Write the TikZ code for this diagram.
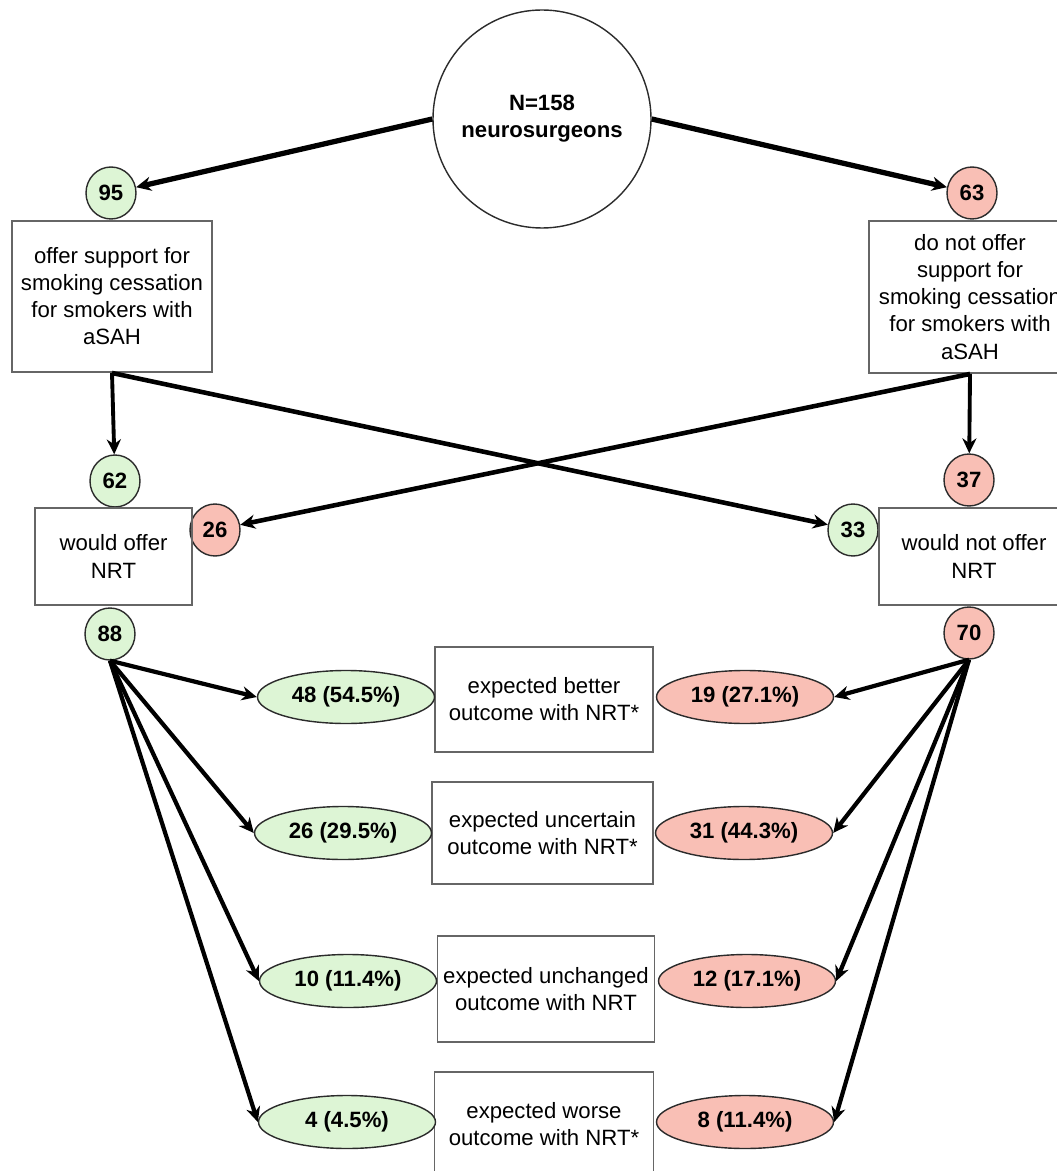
\documentclass[tikz,border=0pt]{standalone}
\usepackage{fontspec}
\setmainfont{Liberation Sans}
\usepackage{tikz}
\usetikzlibrary{arrows.meta,shapes.geometric}
\definecolor{yesgreen}{HTML}{DDF5D5}
\definecolor{nopink}{HTML}{F9BFB5}
\definecolor{boxgray}{HTML}{666666}
\definecolor{rimgray}{HTML}{2B2B2B}

\begin{document}
\begin{tikzpicture}[
  every node/.style={font=\fontsize{12.6}{15.4}\selectfont},
  count/.style={ellipse,draw=rimgray,line width=0.8pt,inner sep=0pt,minimum width=1cm,minimum height=1.04cm,font=\fontsize{12.6}{15.4}\selectfont\bfseries},
  yes/.style={count,fill=yesgreen},
  no/.style={count,fill=nopink},
  shareyes/.style={yes,minimum width=3.54cm,minimum height=1.06cm},
  shareno/.style={no,minimum width=3.54cm,minimum height=1.06cm},
  textbox/.style={rectangle,draw=boxgray,line width=1.1pt,align=center,inner sep=1pt},
  arrow/.style={-{Stealth[length=8.5pt,width=8pt]},line width=2.4pt,color=black}
]
\useasboundingbox (0,0) rectangle (21.14,-23.42);
\clip (0,0) rectangle (21.14,-23.42);

\node[circle,draw=rimgray,line width=0.8pt,minimum size=4.36cm,align=center,font=\fontsize{12.6}{15.4}\selectfont\bfseries] (total) at (10.84,-2.38) {N=158\\neurosurgeons};

\node[yes] (yes95) at (2.22,-3.86) {95};
\node[no] (no63) at (19.44,-3.86) {63};
\node[textbox,minimum width=4cm,minimum height=3.02cm] (offer) at (2.24,-5.93) {offer support for\\smoking cessation\\for smokers with\\aSAH};
\node[textbox,minimum width=4.04cm,minimum height=3.04cm] (nooffer) at (19.40,-5.94) {do not offer\\support for\\smoking cessation\\for smokers with\\aSAH};

\node[yes] (yes62) at (2.30,-9.62) {62};
\node[no] (no26) at (4.30,-10.60) {26};
\node[no] (no37) at (19.38,-9.60) {37};
\node[yes] (yes33) at (17.06,-10.60) {33};
\node[textbox,minimum width=3.14cm,minimum height=1.94cm] (nrt) at (2.27,-11.13) {would offer\\NRT};
\node[textbox,minimum width=3.8cm,minimum height=1.94cm] (nonrt) at (19.48,-11.13) {would not offer\\NRT};
\node[yes] (yes88) at (2.20,-12.68) {88};
\node[no] (no70) at (19.38,-12.66) {70};

\node[textbox,minimum width=4.36cm,minimum height=2.10cm] (better) at (10.88,-13.99) {expected better\\outcome with NRT*};
\node[shareyes] (g48) at (6.92,-13.94) {48 (54.5\%)};
\node[shareno] (r19) at (14.90,-13.94) {19 (27.1\%)};

\node[textbox,minimum width=4.42cm,minimum height=2.04cm] (uncertain) at (10.85,-16.66) {expected uncertain\\outcome with NRT*};
\node[shareyes] (g26) at (6.86,-16.66) {26 (29.5\%)};
\node[shareno] (r31) at (14.88,-16.66) {31 (44.3\%)};

\node[textbox,minimum width=4.34cm,minimum height=2.12cm] (unchanged) at (10.92,-19.78) {expected unchanged\\outcome with NRT};
\node[shareyes] (g10) at (6.96,-19.62) {10 (11.4\%)};
\node[shareno] (r12) at (14.94,-19.62) {12 (17.1\%)};

\node[textbox,minimum width=4.38cm,minimum height=2.08cm] (worse) at (10.88,-22.48) {expected worse\\outcome with NRT*};
\node[shareyes] (g4) at (6.94,-22.44) {4 (4.5\%)};
\node[shareno] (r8) at (14.90,-22.44) {8 (11.4\%)};

\draw[arrow,line width=3pt] (total.west) -- (yes95);
\draw[arrow,line width=3pt] (total.east) -- (no63);
\draw[arrow,line width=2.2pt] (offer.south) -- (yes62);
\draw[arrow,line width=2.2pt] (nooffer.south) -- (no37);
\draw[arrow,line width=2.6pt] (offer.south) -- (yes33);
\draw[arrow,line width=2.6pt] (nooffer.south) -- (no26);

\draw[arrow] (yes88.south) -- (g48.west);
\draw[arrow] (yes88.south) -- (g26.west);
\draw[arrow] (yes88.south) -- (g10.west);
\draw[arrow] (yes88.south) -- (g4.west);
\draw[arrow] (no70.south) -- (r19.east);
\draw[arrow] (no70.south) -- (r31.east);
\draw[arrow] (no70.south) -- (r12.east);
\draw[arrow] (no70.south) -- (r8.east);
\end{tikzpicture}
\end{document}
